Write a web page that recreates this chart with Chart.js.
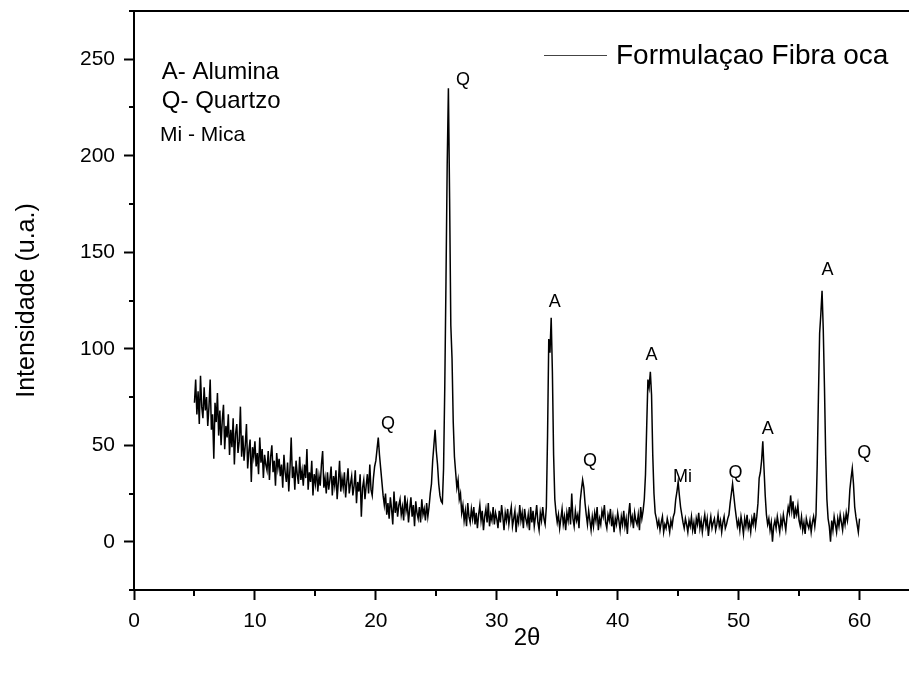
<!DOCTYPE html>
<html>
<head>
<meta charset="utf-8">
<script src="https://cdn.jsdelivr.net/npm/chart.js@4.4.1/dist/chart.umd.min.js"></script>
<style>
  html, body { margin: 0; padding: 0; background: #fff; overflow: hidden; }
  #myChart { display: block; }
</style>
</head>
<body>
<canvas id="myChart" width="960" height="675"></canvas>
<script>
// 2theta grid of the measurement (deg)
const twoThetaStart = 5;
const twoThetaStep = 0.1;

// intensity (u.a.), one row per degree, 5.0 -> 60.0
const intensity = [
  72, 84, 66, 78, 61, 86, 70, 64, 80, 68,
  75, 60, 70, 84, 58, 66, 43, 72, 62, 77,
  55, 68, 50, 63, 71, 48, 60, 54, 66, 45,
  58, 49, 64, 40, 56, 61, 46, 52, 70, 44,
  55, 42, 50, 61, 38, 47, 53, 31, 49, 44,
  52, 39, 46, 35, 54, 41, 48, 33, 45, 40,
  37, 47, 32, 44, 50, 36, 42, 29, 46, 38,
  43, 34, 40, 28, 45, 36, 31, 41, 26, 38,
  54, 33, 39, 27, 42, 35, 30, 44, 32, 37,
  29, 40, 33, 48, 27, 36, 31, 42, 24, 35,
  30, 38, 26, 34, 29, 40, 47, 28, 33, 25,
  36, 27, 32, 39, 24, 34, 29, 37, 22, 31,
  42, 26, 33, 28, 36, 23, 31, 38, 25, 30,
  34, 24, 29, 37, 20, 31, 26, 35, 13, 28,
  32, 22, 29, 35, 25, 40, 27, 24, 33, 39,
  42, 48, 54, 45, 38, 31, 24, 19, 25, 14,
  20, 12, 23, 17, 9, 26, 15, 21, 13, 19,
  22, 14, 18, 11, 24, 16, 20, 10, 17, 23,
  13, 19, 8, 21, 15, 12, 18, 10, 22, 14,
  17, 11, 20, 13, 18, 25, 30, 42, 50, 58,
  47, 40, 30, 24, 21, 20, 38, 80, 135, 195,
  235, 178, 112, 95, 62, 44, 36, 28, 32, 22,
  25, 15, 19, 11, 16, 8, 20, 13, 10, 17,
  12, 18, 9, 15, 7, 14, 19, 11, 16, 6,
  13, 17, 10, 20, 8, 14, 11, 18, 9, 15,
  12, 7, 16, 10, 19, 13, 6, 15, 11, 17,
  9, 14, 18, 8, 12, 16, 5, 13, 10, 19,
  11, 15, 7, 17, 12, 9, 14, 6, 18, 10,
  16, 8, 13, 19, 10, 6, 15, 11, 18, 12,
  9, 18, 55, 105, 98, 116, 88, 45, 22, 15,
  10, 14, 7, 12, 17, 9, 13, 6, 15, 11,
  18, 9, 25, 12, 8, 16, 11, 14, 7, 21,
  27, 32, 28, 20, 14, 9, 16, 11, 6, 13,
  8, 15, 11, 18, 6, 12, 9, 16, 13, 19,
  10, 7, 14, 11, 17, 8, 13, 5, 12, 9,
  15, 11, 6, 13, 9, 16, 8, 12, 4, 14,
  20, 10, 13, 7, 15, 11, 9, 14, 6, 18,
  12, 16, 22, 35, 60, 84, 80, 88, 76, 45,
  25, 15, 12, 8, 11, 6, 10, 13, 5, 9,
  7, 12, 9, 5, 11, 8, 13, 15, 22, 26,
  31, 24, 18, 14, 10, 7, 12, 9, 5, 11,
  8, 13, 6, 10, 4, 12, 9, 15, 7, 11,
  5, 10, 14, 8, 12, 3, 9, 13, 7, 10,
  12, 6, 9, 14, 8, 11, 5, 10, 13, 7,
  9, 12, 14, 20, 25, 30, 24, 18, 13, 8,
  11, 6, 13, 9, 4, 12, 8, 14, 7, 10,
  5, 12, 9, 15, 8, 13, 20, 33, 36, 42,
  52, 38, 24, 14, 9, 12, 6, 10, 0, 8,
  11, 7, 13, 9, 5, 12, 8, 14, 10, 6,
  13, 18, 15, 24, 16, 21, 12, 17, 14, 19,
  11, 8, 13, 6, 10, 4, 12, 9, 7, 11,
  5, 10, 13, 8, 14, 40, 75, 108, 118, 130,
  110, 80, 45, 22, 12, 8, 0, 11, 6, 13,
  9, 5, 12, 8, 14, 10, 6, 13, 9, 15,
  11, 16, 27, 33, 38, 30, 18, 13, 9, 5,
  12
];

// tick values
const xTicks = [0, 10, 20, 30, 40, 50, 60];
const xMinor = [5, 15, 25, 35, 45, 55];
const yTicks = [0, 50, 100, 150, 200, 250];
const yMinor = [-25, 25, 75, 125, 175, 225, 275];

// phase labels over the peaks
const peakText = ['Q', 'Q', 'A', 'Q', 'A', 'Mi', 'Q', 'A', 'A', 'Q'];
const peakX = [21.0, 27.2, 34.8, 37.7, 42.8, 45.35, 49.75, 52.4, 57.35, 60.4];
const peakY = [61, 239, 124, 42, 96.5, 33.5, 35.5, 58.5, 141, 46];

// key in the top left corner
const keyText = ['A- Alumina', 'Q- Quartzo', 'Mi - Mica'];
const keyX = [2.3, 2.3, 2.15];
const keyY = [243.4, 228.4, 210.8];
const keySize = [24, 24, 21];

const seriesName = 'Formulaçao Fibra oca';

const FONT = "'Liberation Sans', Arial, sans-serif";

const points = intensity.map((v, i) => ({
    x: Math.round((twoThetaStart + i * twoThetaStep) * 10) / 10,
    y: v
}));

const decor = {
    id: 'decor',
    afterDraw(chart) {
        const {ctx, chartArea: a, scales: {x, y}} = chart;
        ctx.save();

        // frame
        ctx.strokeStyle = '#000';
        ctx.lineWidth = 2;
        ctx.strokeRect(a.left, a.top, a.right - a.left, a.bottom - a.top);

        // minor ticks
        ctx.beginPath();
        xMinor.forEach(v => {
            const px = Math.round(x.getPixelForValue(v));
            ctx.moveTo(px, a.bottom);
            ctx.lineTo(px, a.bottom + 6);
        });
        yMinor.forEach(v => {
            const py = Math.round(y.getPixelForValue(v));
            ctx.moveTo(a.left, py);
            ctx.lineTo(a.left - 5, py);
        });
        ctx.stroke();

        ctx.fillStyle = '#000';

        // peak labels
        ctx.font = '18px ' + FONT;
        ctx.textAlign = 'center';
        ctx.textBaseline = 'middle';
        peakText.forEach((t, i) => {
            ctx.fillText(t, x.getPixelForValue(peakX[i]), y.getPixelForValue(peakY[i]));
        });

        // key
        ctx.textAlign = 'left';
        keyText.forEach((t, i) => {
            ctx.font = keySize[i] + 'px ' + FONT;
            ctx.fillText(t, x.getPixelForValue(keyX[i]), y.getPixelForValue(keyY[i]));
        });

        // legend
        const lx = a.left + 410, ly = a.top + 44;
        ctx.strokeStyle = '#444';
        ctx.lineWidth = 1;
        ctx.beginPath();
        ctx.moveTo(lx, ly + 0.5);
        ctx.lineTo(lx + 63, ly + 0.5);
        ctx.stroke();
        ctx.font = '28px ' + FONT;
        ctx.fillText(seriesName, lx + 72, ly + 1);

        ctx.restore();
    }
};

const ctx = document.getElementById('myChart');

new Chart(ctx, {
    type: 'line',
    data: {
        datasets: [{
            label: seriesName,
            data: points,
            borderColor: '#000',
            borderWidth: 1.5,
            pointRadius: 0,
            tension: 0,
            fill: false
        }]
    },
    options: {
        responsive: false,
        animation: false,
        events: [],
        layout: {padding: {left: 0, right: 40, top: 11, bottom: 0}},
        plugins: {
            legend: {display: false},
            tooltip: {enabled: false}
        },
        scales: {
            x: {
                type: 'linear',
                min: 0,
                max: 65,
                afterBuildTicks: s => { s.ticks = xTicks.map(v => ({value: v})); },
                afterFit: s => { s.height = 85; s.paddingLeft = 0; s.paddingRight = 0; },
                border: {display: false},
                grid: {
                    drawOnChartArea: false,
                    drawTicks: true,
                    tickLength: 10,
                    tickWidth: 2,
                    tickColor: '#000'
                },
                ticks: {
                    color: '#000',
                    padding: 9,
                    maxRotation: 0,
                    font: {family: FONT, size: 21}
                },
                title: {
                    display: true,
                    text: '2θ',
                    color: '#000',
                    font: {family: FONT, size: 24},
                    padding: {top: 0, bottom: 22}
                }
            },
            y: {
                type: 'linear',
                min: -25,
                max: 275,
                afterBuildTicks: s => { s.ticks = yTicks.map(v => ({value: v})); },
                afterFit: s => { s.width = 134; s.paddingTop = 0; s.paddingBottom = 0; },
                border: {display: false},
                grid: {
                    drawOnChartArea: false,
                    drawTicks: true,
                    tickLength: 10,
                    tickWidth: 2,
                    tickColor: '#000'
                },
                ticks: {
                    color: '#000',
                    padding: 9,
                    font: {family: FONT, size: 21}
                },
                title: {
                    display: true,
                    text: 'Intensidade (u.a.)',
                    color: '#000',
                    font: {family: FONT, size: 25},
                    padding: {top: 12, bottom: 0}
                }
            }
        }
    },
    plugins: [decor]
});
</script>
</body>
</html>
